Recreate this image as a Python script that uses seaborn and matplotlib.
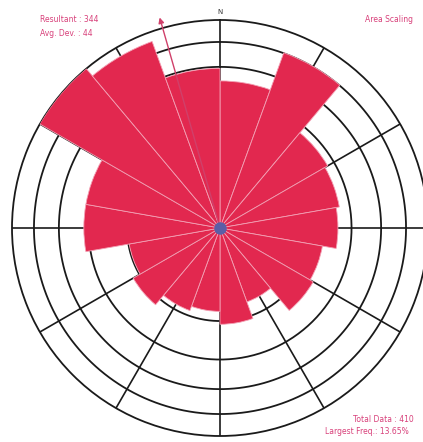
import numpy as np
import matplotlib
matplotlib.use("Agg")
import matplotlib.pyplot as plt
import seaborn as sns

# Orientation classes (20-degree bins, azimuth of bin start) and counts per class
bin_start_deg = [0, 20, 40, 60, 80, 100, 120, 140, 160,
                 180, 200, 220, 240, 260, 280, 300, 320, 340]
counts = [28, 45, 20, 19, 18, 14, 15, 8, 12,
          9, 10, 13, 11, 24, 24, 56, 51, 33]
total_data = 410
largest_freq = 13.65
resultant_deg = 344
avg_dev = 44

info_left = [f"Resultant : {resultant_deg}", f"Avg. Dev. : {avg_dev}"]
info_right_top = "Area Scaling"
info_right_bottom = [f"Total Data : {total_data}", f"Largest Freq.: {largest_freq:.2f}%"]

sns.set_style("white")
plt.rcParams["font.family"] = ["DejaVu Sans"]

freq = np.array(counts) / total_data * 100.0
fmax = freq.max()
bin_width = np.deg2rad(20)
theta = np.deg2rad(np.array(bin_start_deg)) + bin_width / 2

fig = plt.figure(figsize=(4.23, 4.42), dpi=100)
ax = fig.add_axes([12 / 423, 6 / 442, 416 / 423, 416 / 442], projection="polar")
ax.set_theta_zero_location("N")
ax.set_theta_direction(-1)
# equal-area rose: radius grows with the square root of frequency
ax.set_rscale("function", functions=(np.sqrt, np.square))
ax.set_rlim(0, fmax)
ax.grid(False)
ax.set_xticks([])
ax.set_yticks([])
ax.spines["polar"].set_color("#1a1a1a")
ax.spines["polar"].set_linewidth(1.3)

# rings and spokes of the net
tt = np.linspace(0, 2 * np.pi, 400)
for k in range(1, 5):
    ax.plot(tt, np.full_like(tt, fmax * k / 5), color="#1a1a1a", lw=1.3, zorder=1)
for a in range(0, 360, 30):
    ax.plot([np.deg2rad(a)] * 2, [0, fmax], color="#1a1a1a", lw=1.2, zorder=1)

# petals
ax.bar(theta, freq, width=bin_width, bottom=0, color="#e2284f",
       edgecolor="#f3a0b4", linewidth=0.6, zorder=3)

# resultant direction arrow
tip = fmax * (219 / 208) ** 2
ax.annotate("", xy=(np.deg2rad(resultant_deg), tip), xytext=(0, 0),
            arrowprops=dict(arrowstyle="-|>", color="#d0406a", lw=1.0,
                            mutation_scale=8, shrinkA=0, shrinkB=0),
            annotation_clip=False, zorder=5)

ax.plot(0, 0, "o", color="#5b5ea6", ms=8, zorder=6)

fig.text(220 / 423, 1 - 12 / 442, "N", ha="center", va="center",
         fontsize=5, color="#333333")

txt_color = "#d8407a"
fig.text(40 / 423, 1 - 20 / 442, info_left[0], ha="left", va="center",
         fontsize=5.5, color=txt_color)
fig.text(40 / 423, 1 - 33 / 442, info_left[1], ha="left", va="center",
         fontsize=5.5, color=txt_color)
fig.text(365 / 423, 1 - 20 / 442, info_right_top, ha="left", va="center",
         fontsize=5.5, color=txt_color)
fig.text(353 / 423, 1 - 419 / 442, info_right_bottom[0], ha="left", va="center",
         fontsize=5.5, color=txt_color)
fig.text(325 / 423, 1 - 432 / 442, info_right_bottom[1], ha="left", va="center",
         fontsize=5.5, color=txt_color)

fig.savefig("out.png", dpi=100)
